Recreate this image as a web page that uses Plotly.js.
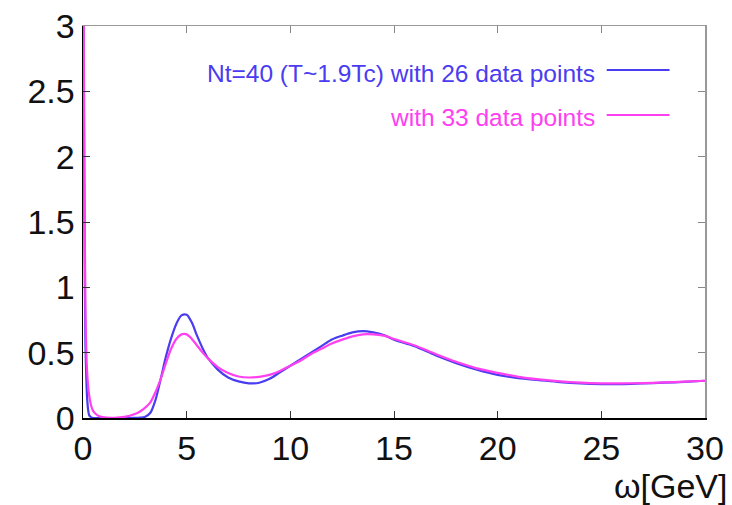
<!DOCTYPE html>
<html>
<head>
<meta charset="utf-8">
<script src="https://cdn.plot.ly/plotly-3.0.1.min.js"></script>
<style>html,body{margin:0;padding:0;background:#fff;}#chart{width:732px;height:505px;}</style>
</head>
<body>
<div id="chart"></div>
<script>
// omega [GeV]
var omega = [0, 0.04, 0.08, 0.12, 0.16, 0.2, 0.25, 0.3, 0.4, 0.5, 0.7, 1, 1.5, 2, 2.5, 2.75, 3, 3.25, 3.5, 3.75, 4, 4.25, 4.5, 4.75, 5, 5.25, 5.5, 5.75, 6, 6.5, 7, 7.5, 8, 8.5, 9, 9.5, 10, 10.5, 11, 11.5, 12, 12.5, 13, 13.5, 14, 14.5, 15, 16, 17, 18, 19, 20, 21, 22, 23, 24, 25, 26, 27, 28, 29, 30];
// Nt=40 with 26 data points (blue)
var rho26 = [4.0, 2.5, 1.2, 0.55, 0.3, 0.15, 0.06, 0.02, 0.005, 0.0, 0.0, 0.0, 0.0, 0.0, 0.001, 0.003, 0.01, 0.04, 0.14, 0.30, 0.47, 0.61, 0.72, 0.785, 0.79, 0.73, 0.63, 0.54, 0.465, 0.37, 0.31, 0.28, 0.265, 0.27, 0.30, 0.35, 0.40, 0.45, 0.50, 0.55, 0.60, 0.63, 0.655, 0.665, 0.655, 0.635, 0.60, 0.55, 0.48, 0.42, 0.37, 0.33, 0.305, 0.29, 0.275, 0.265, 0.26, 0.26, 0.265, 0.27, 0.277, 0.285];
// with 33 data points (magenta)
var rho33 = [4.0, 2.8, 1.6, 0.8, 0.5, 0.35, 0.24, 0.17, 0.09, 0.05, 0.02, 0.005, 0.002, 0.008, 0.03, 0.05, 0.08, 0.12, 0.20, 0.30, 0.42, 0.53, 0.605, 0.64, 0.64, 0.605, 0.555, 0.505, 0.46, 0.39, 0.345, 0.318, 0.31, 0.315, 0.33, 0.36, 0.40, 0.44, 0.49, 0.53, 0.57, 0.60, 0.625, 0.64, 0.64, 0.63, 0.605, 0.555, 0.49, 0.43, 0.38, 0.345, 0.315, 0.295, 0.28, 0.27, 0.265, 0.265, 0.267, 0.272, 0.278, 0.285];
var xTicks = [0, 5, 10, 15, 20, 25, 30];
var yTicks = [0, 0.5, 1, 1.5, 2, 2.5, 3];
var yTickText = ['0', '0.5', '1', '1.5', '2', '2.5', '3'];
var seriesNames = ['Nt=40 (T~1.9Tc) with 26 data points', 'with 33 data points'];
var seriesColors = ['#4a3cf0', '#ff40f0'];

var font = 'Liberation Sans, Arial, Helvetica, sans-serif';
var traces = [
  {x: omega, y: rho26, mode: 'lines', line: {color: seriesColors[0], width: 2.2, shape: 'spline', smoothing: 0.8}, name: seriesNames[0], showlegend: false},
  {x: omega, y: rho33, mode: 'lines', line: {color: seriesColors[1], width: 2.2, shape: 'spline', smoothing: 0.8}, name: seriesNames[1], showlegend: false},
  {x: [null], y: [null], xaxis: 'x2', yaxis: 'y2', showlegend: false, hoverinfo: 'skip'}
];
var layout = {
  width: 732, height: 505,
  margin: {l: 83, r: 27, t: 26, b: 87},
  paper_bgcolor: '#fff', plot_bgcolor: '#fff',
  showlegend: false,
  xaxis: {range: [0, 30], tickvals: xTicks, ticks: 'inside', ticklen: 7, tickcolor: '#333', showline: true, linecolor: '#000', linewidth: 1.5, showgrid: false, zeroline: false, tickfont: {family: font, size: 34, color: '#111'}},
  yaxis: {range: [0, 3], tickvals: yTicks, ticktext: yTickText, ticks: 'inside', ticklen: 7, tickcolor: '#333', showline: true, linecolor: '#000', linewidth: 1.5, showgrid: false, zeroline: false, tickfont: {family: font, size: 34, color: '#111'}},
  xaxis2: {range: [0, 30], overlaying: 'x', side: 'top', tickvals: xTicks, showticklabels: false, ticks: 'inside', ticklen: 7, tickcolor: '#888', showline: true, linecolor: '#999', linewidth: 1.5, showgrid: false, zeroline: false},
  yaxis2: {range: [0, 3], overlaying: 'y', side: 'right', tickvals: yTicks, showticklabels: false, ticks: 'inside', ticklen: 7, tickcolor: '#888', showline: true, linecolor: '#999', linewidth: 1.5, showgrid: false, zeroline: false},
  annotations: [
    {xref: 'paper', yref: 'paper', x: 1.038, y: -0.174, xanchor: 'right', yanchor: 'middle', showarrow: false, text: 'ω[GeV]', font: {family: font, size: 34, color: '#111'}},
    {xref: 'paper', yref: 'paper', x: 0.826, y: 0.88, xanchor: 'right', yanchor: 'middle', showarrow: false, text: seriesNames[0], font: {family: font, size: 24.5, color: seriesColors[0]}},
    {xref: 'paper', yref: 'paper', x: 0.826, y: 0.766, xanchor: 'right', yanchor: 'middle', showarrow: false, text: seriesNames[1], font: {family: font, size: 24.5, color: seriesColors[1]}}
  ],
  shapes: [
    {type: 'line', xref: 'paper', yref: 'paper', x0: 0.842, x1: 0.943, y0: 0.888, y1: 0.888, line: {color: seriesColors[0], width: 2}},
    {type: 'line', xref: 'paper', yref: 'paper', x0: 0.842, x1: 0.943, y0: 0.773, y1: 0.773, line: {color: seriesColors[1], width: 2}}
  ]
};
Plotly.newPlot('chart', traces, layout, {displayModeBar: false, staticPlot: true});
</script>
</body>
</html>
